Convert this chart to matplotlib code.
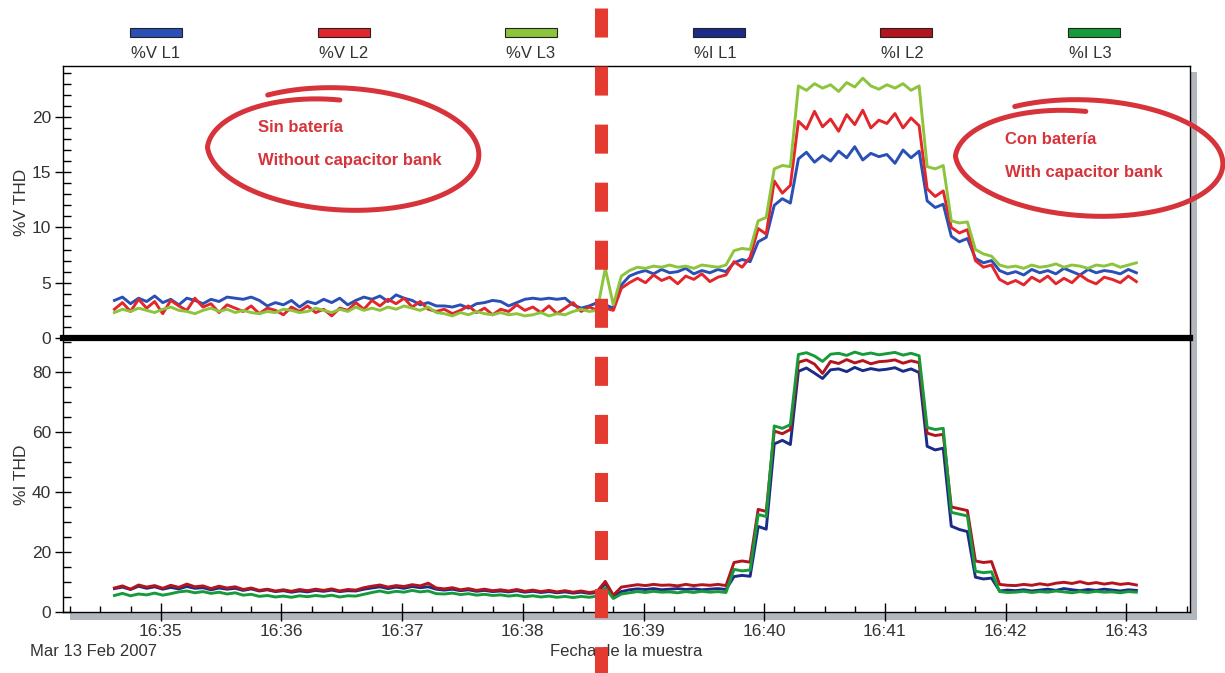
import numpy as np
import matplotlib.pyplot as plt
from matplotlib.lines import Line2D
from matplotlib.patches import Rectangle
from matplotlib.ticker import MultipleLocator, FuncFormatter

plt.rcParams['font.family'] = ['Liberation Sans', 'DejaVu Sans']
plt.rcParams['lines.scale_dashes'] = False

# samples every 4 s from 16:34:37 (Mar 13 Feb 2007)
start_sec = 37
step_sec = 4

v_l1 = [
    3.4, 3.7, 3.1, 3.6, 3.3, 3.8, 3.2, 3.5, 3.0, 3.6, 3.4, 3.1, 3.5, 3.3, 3.7, 3.6,
    3.5, 3.7, 3.4, 2.9, 3.2, 3.0, 3.4, 2.8, 3.3, 3.1, 3.5, 3.2, 3.6, 3.0, 3.4, 3.7,
    3.5, 3.8, 3.3, 3.9, 3.6, 3.4, 3.0, 3.2, 2.9, 2.9, 2.8, 3.0, 2.7, 3.1, 3.2, 3.4,
    3.3, 2.9, 3.2, 3.5, 3.6, 3.5, 3.6, 3.5, 3.6, 3.0, 2.7, 2.9, 3.2, 3.0, 2.7, 4.8,
    5.6, 5.9, 6.1, 5.8, 6.2, 5.9, 6.0, 6.3, 5.8, 6.1, 5.9, 6.2, 6.0, 6.8, 7.1, 6.9,
    8.7, 9.1, 12.0, 12.6, 12.2, 16.2, 16.8, 15.9, 16.5, 16.0, 16.9, 16.3, 17.3, 16.1, 16.7, 16.4,
    16.6, 15.8, 17.0, 16.3, 16.9, 12.4, 11.8, 12.1, 9.2, 8.7, 9.0, 7.2, 6.8, 7.0, 6.1, 5.8,
    6.0, 5.7, 6.2, 5.9, 6.1, 5.8, 6.3, 6.0, 5.7, 6.2, 5.9, 6.1, 6.0, 5.8, 6.2, 5.9,
]
v_l2 = [
    2.6, 3.2, 2.4, 3.5, 2.7, 3.3, 2.2, 3.4, 2.9, 2.5, 3.6, 2.8, 3.1, 2.3, 3.0, 2.7,
    2.4, 2.9, 2.2, 2.7, 2.5, 2.1, 2.8, 2.4, 2.9, 2.3, 2.6, 2.0, 2.7, 2.5, 3.2, 2.6,
    3.4, 2.9, 3.5, 3.1, 3.6, 2.8, 3.3, 2.6, 2.4, 2.6, 2.2, 2.5, 2.9, 2.3, 2.7, 2.1,
    2.6, 2.4, 3.0, 2.5, 2.8, 2.3, 2.9, 2.2, 2.7, 3.2, 2.4, 2.8, 2.5, 2.7, 2.5, 4.5,
    5.0, 5.4, 5.0, 5.7, 5.2, 5.5, 4.9, 5.6, 5.3, 5.8, 5.1, 5.5, 5.7, 6.9, 6.4, 7.3,
    9.9, 9.4, 14.2, 13.1, 13.8, 19.6, 18.9, 20.5, 19.1, 19.8, 18.7, 20.2, 19.3, 20.6, 19.0, 19.7,
    19.4, 20.3, 19.0, 19.9, 19.2, 13.5, 12.8, 13.3, 10.0, 9.5, 9.8, 7.0, 6.4, 6.6, 5.3, 4.9,
    5.2, 4.8, 5.5, 5.1, 5.6, 4.9, 5.4, 5.0, 5.7, 5.2, 4.9, 5.5, 5.3, 5.0, 5.6, 5.1,
]
v_l3 = [
    2.3, 2.6, 2.4, 2.7, 2.5, 2.3, 2.6, 2.8, 2.5, 2.4, 2.2, 2.5, 2.7, 2.4, 2.6, 2.3,
    2.5, 2.3, 2.2, 2.4, 2.3, 2.6, 2.5, 2.3, 2.4, 2.7, 2.5, 2.3, 2.6, 2.4, 2.8, 2.5,
    2.7, 2.5, 2.8, 2.6, 2.9, 2.7, 2.5, 2.8, 2.3, 2.2, 2.0, 2.3, 2.1, 2.4, 2.2, 2.1,
    2.3, 2.1, 2.2, 2.0, 2.1, 2.3, 2.0, 2.2, 2.1, 2.4, 2.6, 2.4, 2.5, 6.3, 3.0, 5.6,
    6.1, 6.4, 6.3, 6.5, 6.4, 6.6, 6.4, 6.5, 6.3, 6.6, 6.5, 6.4, 6.6, 7.9, 8.1, 8.0,
    10.6, 10.9, 15.3, 15.6, 15.5, 22.8, 22.4, 23.0, 22.6, 22.9, 22.3, 23.1, 22.7, 23.5, 22.8, 22.5,
    22.9, 22.6, 23.0, 22.4, 22.8, 15.5, 15.3, 15.6, 10.6, 10.4, 10.5, 8.0, 7.6, 7.4, 6.6, 6.4,
    6.5, 6.3, 6.6, 6.4, 6.5, 6.7, 6.4, 6.6, 6.5, 6.3, 6.6, 6.5, 6.7, 6.4, 6.6, 6.8,
]
i_l1 = [
    7.8, 8.3, 7.5, 8.6, 7.9, 8.4, 7.6, 8.2, 7.7, 8.5, 7.9, 8.1, 7.4, 8.0, 7.6, 7.9,
    7.2, 7.7, 7.0, 7.4, 6.8, 7.1, 6.6, 7.0, 6.7, 7.2, 6.9, 7.3, 6.8, 7.1, 7.0, 7.6,
    8.0, 8.4, 7.8, 8.3, 7.9, 8.5, 8.1, 8.4, 7.6, 7.3, 7.6, 7.1, 7.4, 6.9, 7.2, 6.8,
    7.0, 6.7, 7.1, 6.6, 6.9, 6.5, 6.8, 6.4, 6.7, 6.3, 6.6, 6.2, 6.5, 9.5, 5.2, 6.8,
    7.4, 7.7, 7.5, 7.8, 7.4, 7.6, 7.8, 7.5, 7.7, 7.4, 7.6, 7.8, 7.5, 11.8, 12.2, 11.9,
    28.5, 27.6, 56.0, 57.2, 55.8, 80.2, 81.3, 79.6, 77.8, 80.7, 81.0, 80.1, 81.5, 80.4, 81.1, 80.6,
    80.9, 81.4, 80.2, 81.0, 79.8, 55.2, 54.0, 54.6, 28.6, 27.5, 26.8, 11.6, 11.0, 11.3, 7.0, 7.3,
    7.1, 7.4, 7.0, 7.3, 7.6, 7.2, 7.8, 7.4, 7.1, 7.5, 7.2, 7.6, 7.3, 7.0, 7.4, 7.2,
]
i_l2 = [
    8.0, 8.7, 7.6, 9.0, 8.3, 8.8, 7.9, 8.9, 8.2, 9.3, 8.4, 8.7, 7.8, 8.6, 8.0, 8.4,
    7.5, 8.0, 7.2, 7.6, 7.0, 7.4, 6.9, 7.5, 7.1, 7.6, 7.2, 7.7, 7.0, 7.5, 7.3, 8.1,
    8.6, 9.0, 8.3, 8.8, 8.5, 9.1, 8.7, 9.6, 8.0, 7.7, 8.1, 7.4, 7.8, 7.2, 7.6, 7.1,
    7.4, 7.0, 7.5, 6.9, 7.3, 6.8, 7.2, 6.7, 7.1, 6.6, 7.0, 6.5, 6.9, 10.2, 5.6, 8.3,
    8.7, 9.1, 8.8, 9.2, 8.9, 9.0, 8.7, 9.2, 8.8, 9.1, 8.9, 9.2, 8.8, 16.5, 17.0, 16.6,
    34.2, 33.5, 60.3, 59.4, 60.8, 83.2, 84.0, 82.6, 79.5, 83.5, 82.8, 84.1, 83.0, 83.8, 82.7, 83.4,
    83.6, 84.0, 82.9, 83.7, 83.1, 59.6, 58.8, 59.2, 35.0, 34.4, 33.8, 17.0, 16.5, 16.8, 9.2, 8.9,
    8.8, 9.2, 8.9, 9.4, 9.0, 9.6, 9.9, 9.5, 10.1, 9.4, 9.8, 9.3, 9.7, 9.2, 9.5, 9.0,
]
i_l3 = [
    5.5, 6.2, 5.4, 6.0, 5.7, 6.3, 5.6, 6.1, 6.7, 7.0, 6.4, 6.8, 6.2, 6.6, 6.0, 6.4,
    5.6, 5.9, 5.2, 5.5, 5.0, 5.3, 4.9, 5.4, 5.1, 5.5, 5.2, 5.6, 5.0, 5.4, 5.3, 5.9,
    6.5, 7.0, 6.4, 6.9, 6.6, 7.2, 6.7, 7.0, 6.1, 6.0, 6.3, 5.8, 6.1, 5.6, 5.9, 5.5,
    5.7, 5.3, 5.6, 5.1, 5.4, 5.0, 5.3, 4.9, 5.2, 4.8, 5.2, 4.9, 5.3, 8.0, 4.5, 6.0,
    6.4, 6.8, 6.5, 6.9, 6.6, 6.7, 6.4, 6.8, 6.5, 6.9, 6.6, 6.8, 6.5, 14.2, 13.7, 14.0,
    32.5, 31.8, 62.0, 61.2, 62.4, 85.8, 86.4, 85.3, 83.5, 85.9, 86.2, 85.5, 86.6, 85.8, 86.3, 85.7,
    86.1, 86.5, 85.6, 86.2, 85.4, 61.5, 60.8, 61.2, 33.2, 32.6, 32.0, 13.6, 13.1, 13.4, 6.8, 6.5,
    6.6, 6.9, 6.5, 6.8, 6.6, 7.0, 6.7, 6.4, 6.8, 6.5, 6.9, 6.6, 6.7, 6.4, 6.8, 6.6,
]

legend_labels = ["%V L1", "%V L2", "%V L3", "%I L1", "%I L2", "%I L3"]
colors = ["#2a50b6", "#e2262c", "#8cc43c", "#1b2c88", "#b3141e", "#179b3a"]
switch_time = 38.65  # capacitor bank connected (minutes after 16:00)

minutes = 34 + (start_sec + step_sec * np.arange(len(v_l1))) / 60

W, H = 1225, 673
fig = plt.figure(figsize=(W / 100, H / 100), dpi=100)
fx = lambda x: x / W
fy = lambda y: 1 - y / H

ax_v = fig.add_axes([fx(63), fy(338), (1190 - 63) / W, (338 - 66) / H])
ax_i = fig.add_axes([fx(63), fy(612), (1190 - 63) / W, (612 - 338) / H])
ax_v.set_zorder(2)

txt = "#333333"
for ax, series, cols in [(ax_v, [v_l1, v_l2, v_l3], colors[:3]),
                         (ax_i, [i_l1, i_l2, i_l3], colors[3:])]:
    for y, c in zip(series, cols):
        ax.plot(minutes, y, color=c, lw=2.1, solid_joinstyle="round")
    ax.set_xlim(34.1906, 43.5277)
    for s in ax.spines.values():
        s.set_linewidth(1.0)
    ax.tick_params(axis="y", which="major", direction="inout", length=11,
                   width=1, labelsize=12.5, labelcolor=txt, pad=3)
    ax.tick_params(axis="y", which="minor", direction="in", length=6, width=1)

ax_v.set_ylim(0, 24.6)
ax_v.yaxis.set_major_locator(MultipleLocator(5))
ax_v.yaxis.set_minor_locator(MultipleLocator(1))
ax_v.tick_params(axis="x", which="both", bottom=False, labelbottom=False)
ax_v.spines["bottom"].set_linewidth(4.5)

ax_i.set_ylim(0, 91.3)
ax_i.yaxis.set_major_locator(MultipleLocator(20))
ax_i.yaxis.set_minor_locator(MultipleLocator(5))
ax_i.spines["top"].set_visible(False)
ax_i.xaxis.set_major_locator(MultipleLocator(1))
ax_i.xaxis.set_minor_locator(MultipleLocator(0.25))
ax_i.xaxis.set_major_formatter(FuncFormatter(lambda v, p: f"16:{int(round(v)):02d}"))
ax_i.tick_params(axis="x", which="major", direction="inout", length=13, width=1,
                 labelsize=12.5, labelcolor=txt, pad=2)
ax_i.tick_params(axis="x", which="minor", direction="in", length=4, width=1)

# drop shadow of the plot frame
fig.add_artist(Rectangle((fx(1190), fy(620)), 7 / W, (620 - 72) / H,
                         transform=fig.transFigure, facecolor="#b2b7be",
                         edgecolor="none", zorder=-1))
fig.add_artist(Rectangle((fx(70), fy(620)), (1197 - 70) / W, 8 / H,
                         transform=fig.transFigure, facecolor="#b2b7be",
                         edgecolor="none", zorder=-1))

fig.text(fx(22), fy(202), "%V THD", rotation=90, ha="center", va="center",
         fontsize=12.5, color=txt)
fig.text(fx(22), fy(475), "%I THD", rotation=90, ha="center", va="center",
         fontsize=12.5, color=txt)
fig.text(fx(30), fy(651), "Mar 13 Feb 2007", ha="left", va="center",
         fontsize=12, color=txt)
fig.text(fx(626), fy(651), "Fecha de la muestra", ha="center", va="center",
         fontsize=12, color=txt)

# legend row
for k, (lab, c) in enumerate(zip(legend_labels, colors)):
    x0 = 130 + k * 187.6
    fig.add_artist(Rectangle((fx(x0), fy(37)), 52 / W, 9 / H,
                             transform=fig.transFigure, facecolor=c,
                             edgecolor="#222222", lw=0.8))
    fig.text(fx(x0 + 1), fy(53), lab, ha="left", va="center",
             fontsize=12, color=txt)


def scribble(cx, cy, a, b, tilt, start=125, sweep=392, shrink_at=300, end_scale=0.8):
    th = np.linspace(0, sweep, 500)
    ang = np.radians(start - th)
    s = np.where(th < shrink_at, 1.0,
                 1 - (1 - end_scale) * (th - shrink_at) / (sweep - shrink_at))
    x = a * s * np.cos(ang)
    y = b * s * np.sin(ang)
    t = np.radians(tilt)
    xr = x * np.cos(t) - y * np.sin(t)
    yr = x * np.sin(t) + y * np.cos(t)
    return (cx + xr) / W, (H - cy + yr) / H


red_ink = "#d6333b"
for cx, cy, a, b, tilt in [(343, 149, 136, 61, -3), (1089, 158, 134, 58, -3)]:
    xs, ys = scribble(cx, cy, a, b, tilt)
    fig.add_artist(Line2D(xs, ys, transform=fig.transFigure, color=red_ink,
                          lw=3.6, solid_capstyle="round", zorder=5))

ann = dict(fontsize=12, color=red_ink, fontweight="bold", ha="left", va="center",
           family=["Liberation Sans Narrow", "Liberation Sans"])
fig.text(fx(258), fy(128), "Sin batería", **ann)
fig.text(fx(258), fy(161), "Without capacitor bank", **ann)
fig.text(fx(1005), fy(140), "Con batería", **ann)
fig.text(fx(1005), fy(172), "With capacitor bank", **ann)

# switching instant: dashed red line across the whole figure
x_sw = 63 + (switch_time - 34.1906) / (43.5277 - 34.1906) * (1190 - 63)
fig.add_artist(Line2D([fx(x_sw), fx(x_sw)], [fy(8), fy(690)],
                      transform=fig.transFigure, color="#e53a2f", lw=9.4,
                      linestyle=(0, (20.9, 20.9)), dash_capstyle="butt",
                      zorder=10))

fig.savefig("out.png", dpi=100)
